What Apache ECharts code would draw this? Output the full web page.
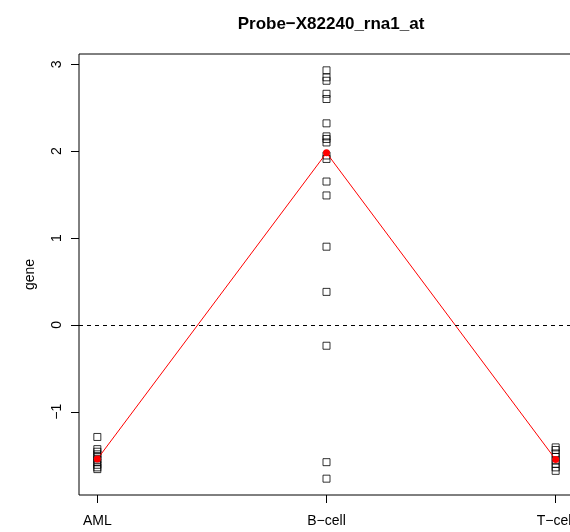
<!DOCTYPE html>
<html>
<head>
<meta charset="utf-8">
<script src="https://cdn.jsdelivr.net/npm/echarts@6/dist/echarts.min.js"></script>
<style>
html,body{margin:0;padding:0;background:#fff;overflow:hidden;}
#chart{width:570px;height:532px;}
</style>
</head>
<body>
<div id="chart"></div>
<script>
// ---- data ----
var title = 'Probe\u2212X82240_rna1_at';
var categories = ['AML', 'B\u2212cell', 'T\u2212cell'];
var amlValues = [-1.29, -1.43, -1.46, -1.49, -1.52, -1.55, -1.58, -1.61, -1.64, -1.66];
var bcellValues = [2.93, 2.85, 2.81, 2.66, 2.60, 2.32, 2.17, 2.14, 2.10, 1.95, 1.91, 1.65, 1.49, 0.90, 0.38, -0.24, -1.58, -1.77];
var tcellValues = [-1.41, -1.44, -1.48, -1.52, -1.56, -1.60, -1.64, -1.68];
var centerValues = [-1.545, 1.98, -1.55];
var yTicks = [-1, 0, 1, 2, 3];
var xTicks = [1, 2, 3];

var groups = [amlValues, bcellValues, tcellValues];
var pointData = [];
groups.forEach(function (arr, i) {
  arr.forEach(function (v) { pointData.push([i + 1, v]); });
});
var centerData = centerValues.map(function (v, i) { return [i + 1, v]; });

var all = amlValues.concat(bcellValues, tcellValues, centerValues);
var lo = Math.min.apply(null, all), hi = Math.max.apply(null, all);
var pad = 0.04 * (hi - lo);

var font = 'Liberation Sans, Arial, Helvetica, sans-serif';
var chart = echarts.init(document.getElementById('chart'), null, {renderer: 'canvas'});
chart.setOption({
  animation: false,
  backgroundColor: '#fff',
  title: {
    text: title, left: 326, top: 11, textAlign: 'center',
    textStyle: {fontFamily: font, fontSize: 17, fontWeight: 'bold', color: '#000'}
  },
  grid: {left: 79, top: 54, width: 495, height: 441, show: true, borderColor: '#000', borderWidth: 1,
         backgroundColor: 'transparent', containLabel: false, outerBoundsMode: 'none'},
  xAxis: {
    type: 'value', min: 0.92, max: 3.08,
    axisLine: {show: false, onZero: false},
    splitLine: {show: false},
    axisTick: {show: true, length: 8, lineStyle: {color: '#000'}, customValues: xTicks},
    axisLabel: {
      customValues: xTicks, margin: 19, color: '#000', fontFamily: font, fontSize: 14,
      formatter: function (v) { return categories[Math.round(v) - 1] || ''; }
    }
  },
  yAxis: {
    type: 'value', min: lo - pad, max: hi + pad,
    name: 'gene', nameLocation: 'middle', nameGap: 42, nameRotate: 90,
    nameTextStyle: {fontFamily: font, fontSize: 14, color: '#000'},
    axisLine: {show: false, onZero: false},
    splitLine: {show: false},
    axisTick: {show: true, length: 8, lineStyle: {color: '#000'}, customValues: yTicks},
    axisLabel: {
      customValues: yTicks, rotate: 90, margin: 15, color: '#000', fontFamily: font, fontSize: 14,
      formatter: function (v) { return String(v).replace('-', '\u2212'); }
    }
  },
  series: [
    {
      type: 'scatter', data: pointData, symbol: 'rect', symbolSize: 7, z: 2,
      itemStyle: {color: 'rgba(0,0,0,0)', borderColor: '#000', borderWidth: 1},
      markLine: {
        silent: true, symbol: 'none', label: {show: false},
        lineStyle: {color: '#000', type: [4, 4], width: 1},
        data: [{yAxis: 0}]
      }
    },
    {
      type: 'line', data: centerData, symbol: 'circle', symbolSize: 7, z: 3,
      lineStyle: {color: '#ff0000', width: 1},
      itemStyle: {color: '#ff0000'}
    }
  ]
});
</script>
</body>
</html>
